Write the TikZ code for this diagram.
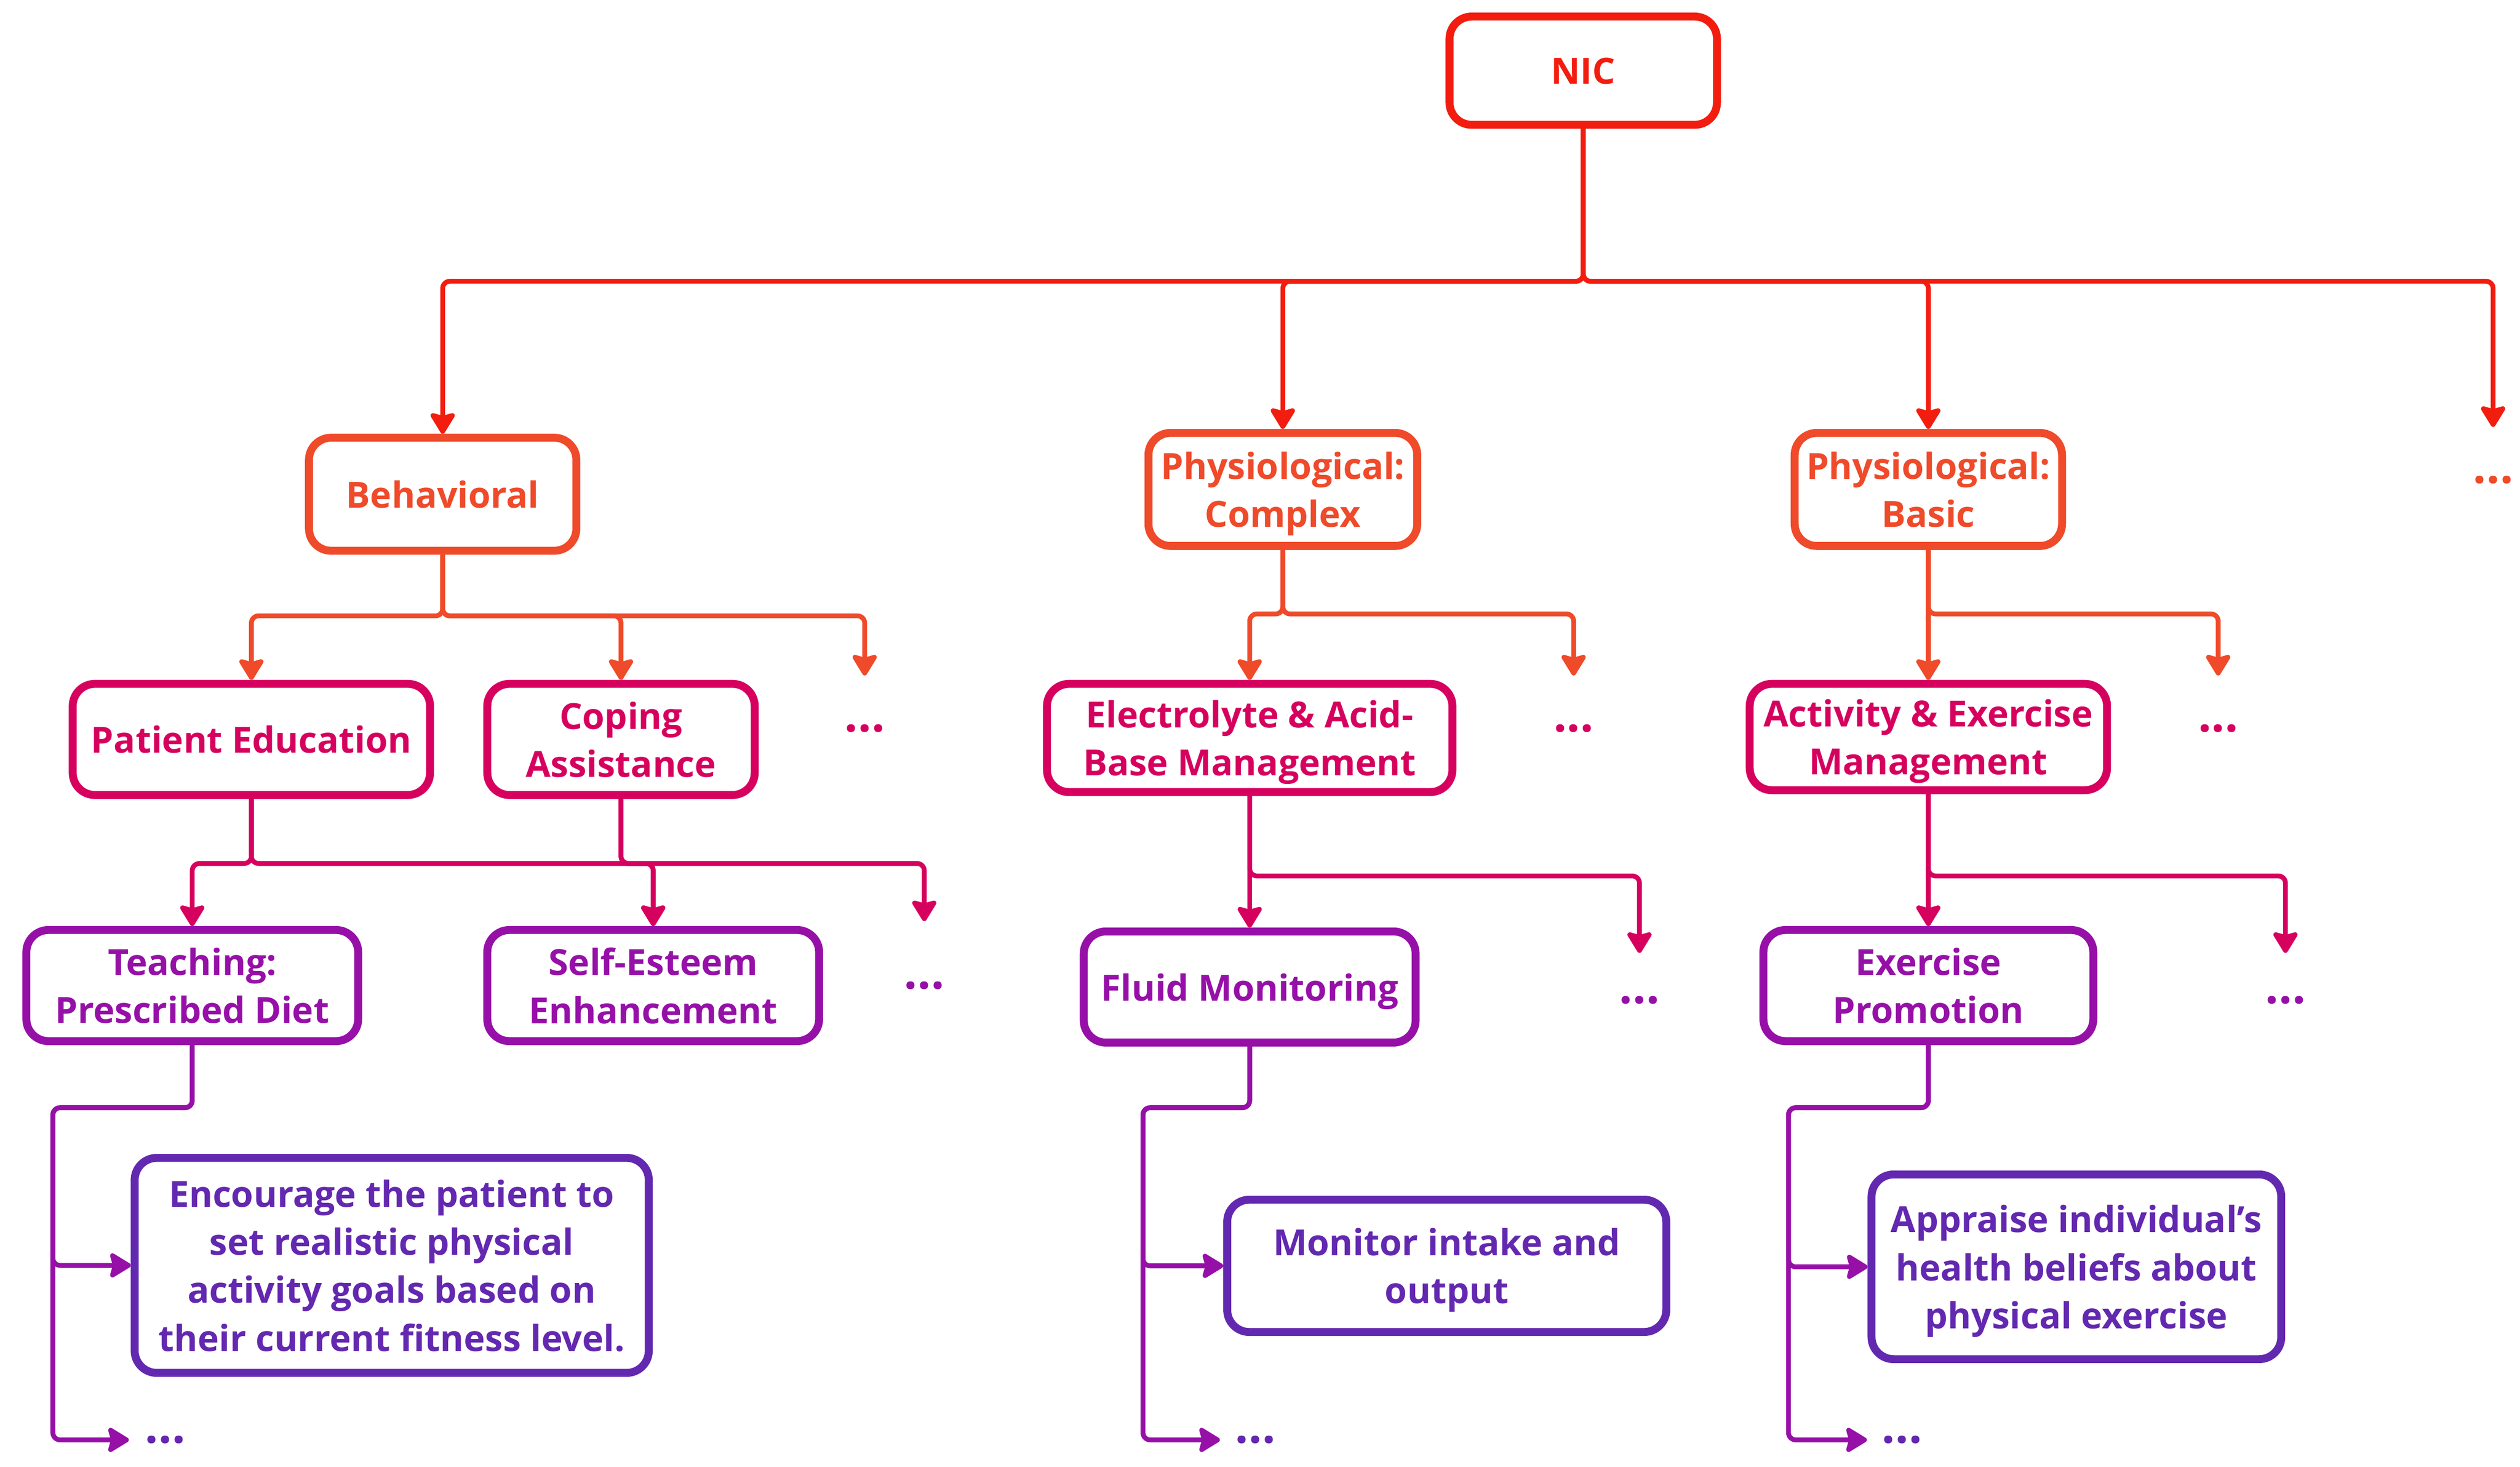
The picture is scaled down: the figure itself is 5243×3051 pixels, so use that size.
\documentclass[tikz,border=0pt]{standalone}
\usepackage{fontspec}
\setmainfont{Open Sans}
\usetikzlibrary{arrows.meta}
\definecolor{nicred}{HTML}{F21D0F}
\definecolor{lvA}{HTML}{EF4A2A}
\definecolor{lvB}{HTML}{D6005E}
\definecolor{lvC}{HTML}{9610A8}
\definecolor{lvD}{HTML}{6328B0}
\newcommand{\moredots}{...}

\begin{document}
\begin{tikzpicture}[x=0.01cm,y=-0.01cm,
box/.style={draw,rectangle,rounded corners=0.46cm,line width=0.165cm,fill=white,align=center,inner sep=0pt,text depth=0pt,font=\fontsize{21.3}{28.45}\selectfont\bfseries},
dotsnode/.style={inner sep=0pt,font=\fontsize{28}{30}\selectfont\bfseries},
link/.style={line width=0.1cm,rounded corners=0.15cm,-{Stealth[length=0.5cm,width=0.6cm,inset=0.08cm,round]}}]
\useasboundingbox (0,0) rectangle (5243,3051);

%top
\node[box,draw=nicred,text=nicred,minimum width=5.56cm,minimum height=2.25cm] (nic) at (3294,147) {NIC};

%first level
\node[box,draw=lvA,text=lvA,minimum width=5.56cm,minimum height=2.35cm] (beh) at (921,1028) {Behavioral};
\node[box,draw=lvA,text=lvA,minimum width=5.59cm,minimum height=2.35cm] (phc) at (2669,1018) {Physiological:\\Complex};
\node[box,draw=lvA,text=lvA,minimum width=5.56cm,minimum height=2.35cm] (phb) at (4012,1018) {Physiological:\\Basic};
\node[dotsnode,text=lvA] (dA) at (5187,998) {\moredots};
\coordinate (eA) at (5187,888);
\coordinate (jA) at (3294,585);
\foreach \c in {beh,phc,phb,eA}{
\draw[link,nicred] (nic) -- (jA) -| (\c);
}

%second level
\node[box,draw=lvB,text=lvB,minimum width=7.43cm,minimum height=2.31cm] (pe) at (523,1538) {Patient Education};
\node[box,draw=lvB,text=lvB,minimum width=5.56cm,minimum height=2.31cm] (ca) at (1292,1538) {Coping\\Assistance};
\node[dotsnode,text=lvB] (dB1) at (1799,1515) {\moredots};
\coordinate (eB1) at (1799,1405);
\node[box,draw=lvB,text=lvB,minimum width=8.43cm,minimum height=2.25cm] (ea) at (2600,1535) {Electrolyte \& Acid-\\Base Management};
\node[dotsnode,text=lvB] (dB2) at (3274,1515) {\moredots};
\coordinate (eB2) at (3274,1405);
\node[box,draw=lvB,text=lvB,minimum width=7.43cm,minimum height=2.21cm] (ae) at (4012,1533) {Activity \& Exercise\\Management};
\node[dotsnode,text=lvB] (dB3) at (4615,1515) {\moredots};
\coordinate (eB3) at (4615,1405);
\coordinate (jB1) at (921,1281);
\coordinate (jB2) at (2669,1277);
\coordinate (jB3) at (4012,1277);
\foreach \c in {pe,ca,eB1}{
\draw[link,lvA] (beh) -- (jB1) -| (\c);
}
\foreach \c in {ea,eB2}{
\draw[link,lvA] (phc) -- (jB2) -| (\c);
}
\foreach \c in {ae,eB3}{
\draw[link,lvA] (phb) -- (jB3) -| (\c);
}

%third level
\node[box,draw=lvC,text=lvC,minimum width=6.90cm,minimum height=2.31cm] (tp) at (400,2050) {Teaching:\\Prescribed Diet};
\node[box,draw=lvC,text=lvC,minimum width=6.90cm,minimum height=2.31cm] (se) at (1359,2050) {Self-Esteem\\Enhancement};
\node[dotsnode,text=lvC] (dC1) at (1923,2050) {\moredots};
\coordinate (eC1) at (1923,1916);
\node[box,draw=lvC,text=lvC,minimum width=6.90cm,minimum height=2.31cm] (fm) at (2600,2053) {Fluid Monitoring};
\node[dotsnode,text=lvC] (dC2) at (3411,2080) {\moredots};
\coordinate (eC2) at (3411,1982);
\node[box,draw=lvC,text=lvC,minimum width=6.86cm,minimum height=2.31cm] (ep) at (4012,2050) {Exercise\\Promotion};
\node[dotsnode,text=lvC] (dC3) at (4755,2080) {\moredots};
\coordinate (eC3) at (4755,1982);
\coordinate (jC1) at (523,1796);
\coordinate (jC2) at (1292,1796);
\coordinate (jC3) at (2600,1822);
\coordinate (jC4) at (4012,1822);
\foreach \c in {tp,se}{
\draw[link,lvB] (pe) -- (jC1) -| (\c);
}
\foreach \c in {se,eC1}{
\draw[link,lvB] (ca) -- (jC2) -| (\c);
}
\draw[link,lvB] (ea) -- (fm);
\draw[link,lvB] (ea) -- (jC3) -| (eC2);
\draw[link,lvB] (ae) -- (ep);
\draw[link,lvB] (ae) -- (jC4) -| (eC3);

%fourth level
\node[box,draw=lvD,text=lvD,minimum width=10.69cm,minimum height=4.47cm] (enc) at (815,2632) {Encourage the patient to\\set realistic physical\\activity goals based on\\their current fitness level.};
\node[dotsnode,text=lvD] (dD1) at (344,2995) {\moredots};
\coordinate (eD1) at (268,2995);
\node[box,draw=lvD,text=lvD,minimum width=9.13cm,minimum height=2.75cm] (mon) at (3010,2633) {Monitor intake and\\output};
\node[dotsnode,text=lvD] (dD2) at (2612,2995) {\moredots};
\coordinate (eD2) at (2538,2995);
\node[box,draw=lvD,text=lvD,minimum width=8.52cm,minimum height=3.84cm] (app) at (4320,2635) {Appraise individual’s\\health beliefs about\\physical exercise};
\node[dotsnode,text=lvD] (dD3) at (3957,2995) {\moredots};
\coordinate (eD3) at (3884,2995);
\coordinate (jD1) at (400,2304);
\coordinate (kD1) at (110,2304);
\coordinate (jD2) at (2600,2304);
\coordinate (kD2) at (2378,2304);
\coordinate (jD3) at (4012,2304);
\coordinate (kD3) at (3721,2304);
\foreach \c in {enc,eD1}{
\draw[link,lvC] (tp) -- (jD1) -- (kD1) |- (\c);
}
\foreach \c in {mon,eD2}{
\draw[link,lvC] (fm) -- (jD2) -- (kD2) |- (\c);
}
\foreach \c in {app,eD3}{
\draw[link,lvC] (ep) -- (jD3) -- (kD3) |- (\c);
}
\end{tikzpicture}
\end{document}
